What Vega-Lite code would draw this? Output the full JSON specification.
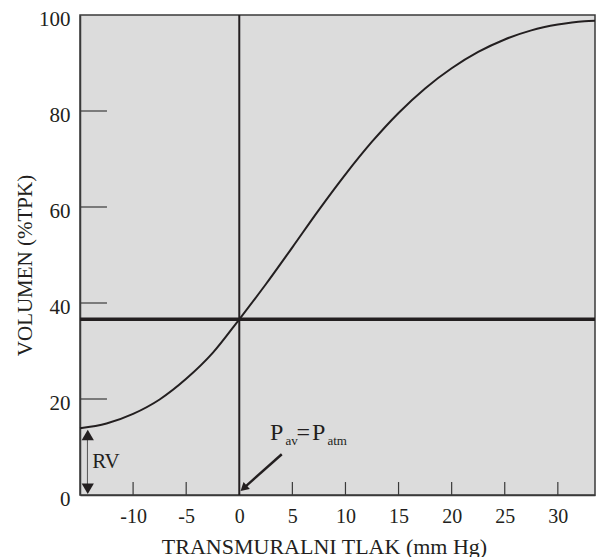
{
  "$schema": "https://vega.github.io/schema/vega-lite/v6.json",
  "autosize": "none",
  "width": 515,
  "height": 480,
  "padding": {"left": 80, "top": 15, "right": 2, "bottom": 62},
  "background": "white",
  "config": {
    "view": {"fill": "#dcdcdc", "stroke": "#3a3a3a", "strokeWidth": 1.5},
    "font": "Liberation Serif, Times New Roman, DejaVu Serif, serif",
    "text": {"font": "Liberation Serif, Times New Roman, DejaVu Serif, serif"},
    "axis": {"labelFont": "Liberation Serif, Times New Roman, DejaVu Serif, serif", "titleFont": "Liberation Serif, Times New Roman, DejaVu Serif, serif", "labelColor": "#231f20", "titleColor": "#231f20", "titleFontWeight": "normal", "domainColor": "#3a3a3a", "tickOpacity": 0, "domainWidth": 1.5, "grid": false, "labelFlush": false}
  },
  "datasets": {
    "curve": [
      {"p": -15, "v": 13.9},
      {"p": -12.5, "v": 14.9},
      {"p": -10, "v": 16.9},
      {"p": -7.5, "v": 19.9},
      {"p": -5, "v": 24.2},
      {"p": -2.5, "v": 29.6},
      {"p": 0, "v": 36.6},
      {"p": 2.5, "v": 43.9},
      {"p": 5, "v": 51.6},
      {"p": 7.5, "v": 59.4},
      {"p": 10, "v": 66.8},
      {"p": 12.5, "v": 73.6},
      {"p": 15, "v": 79.6},
      {"p": 17.5, "v": 84.7},
      {"p": 20, "v": 88.9},
      {"p": 22.5, "v": 92.3},
      {"p": 25, "v": 94.9},
      {"p": 27.5, "v": 96.8},
      {"p": 30, "v": 98.0},
      {"p": 32.5, "v": 98.7},
      {"p": 33.5, "v": 98.8}
    ],
    "hline": [{"v": 36.6}],
    "vline": [{"p": 0}],
    "xticks": [{"p": -10}, {"p": -5}, {"p": 5}, {"p": 10}, {"p": 15}, {"p": 20}, {"p": 25}, {"p": 30}],
    "yticks": [{"v": 20}, {"v": 40}, {"v": 60}, {"v": 80}],
    "rv": [{"p": -14.3, "v": 1.5, "v2": 12.3}],
    "rvup": [{"p": -14.27, "v": 12.5}],
    "rvdown": [{"p": -14.27, "v": 1.3}],
    "rvtext": [{"p": -13.85, "v": 6.8, "t": "RV"}],
    "parrow": [{"p": 4.0, "v": 8.5, "p2": 0.5, "v2": 1.6}],
    "phead": [{"p": 0.41, "v": 1.4}],
    "bigtext": [
      {"p": 2.89, "v": 11.46, "t": "P"},
      {"p": 5.4, "v": 11.46, "t": "="},
      {"p": 6.85, "v": 11.46, "t": "P"}
    ],
    "smalltext": [
      {"p": 4.35, "v": 10.42, "t": "av"},
      {"p": 8.3, "v": 10.42, "t": "atm"}
    ]
  },
  "layer": [
    {
      "data": {"name": "curve"},
      "mark": {"type": "line", "interpolate": "monotone", "color": "#231f20", "strokeWidth": 2},
      "encoding": {
        "x": {"field": "p", "type": "quantitative", "scale": {"domain": [-15, 33.5], "nice": false, "zero": false},
          "axis": {"values": [-10, -5, 0, 5, 10, 15, 20, 25, 30], "labelExpr": "toString(datum.value)", "tickSize": -13, "labelPadding": 24, "labelFontSize": 20, "labelBaseline": "top",
            "title": "TRANSMURALNI TLAK (mm Hg)", "titleFontSize": 22, "titleX": 244, "titleY": 58, "titleBaseline": "alphabetic", "titleAnchor": "middle", "titleAlign": "center"}},
        "y": {"field": "v", "type": "quantitative", "scale": {"domain": [0, 100], "nice": false},
          "axis": {"values": [0, 20, 40, 60, 80, 100], "tickSize": -27, "labelPadding": 37, "labelFontSize": 21, "labelOffset": 4,
            "title": "VOLUMEN (%TPK)", "titleFontSize": 21, "titleX": -55, "titleY": 250, "titleAngle": 270, "titleBaseline": "middle", "titleAlign": "center", "titleAnchor": "middle"}}
      }
    },
    {
      "data": {"name": "xticks"},
      "mark": {"type": "rule", "color": "#3a3a3a", "strokeWidth": 1.2},
      "encoding": {"x": {"field": "p", "type": "quantitative"}, "y": {"datum": 0}, "y2": {"datum": 2.7}}
    },
    {
      "data": {"name": "yticks"},
      "mark": {"type": "rule", "color": "#3a3a3a", "strokeWidth": 1.2},
      "encoding": {"y": {"field": "v", "type": "quantitative"}, "x": {"datum": -15}, "x2": {"datum": -12.46}}
    },
    {
      "data": {"name": "hline"},
      "mark": {"type": "rule", "color": "#231f20", "strokeWidth": 3.5},
      "encoding": {"y": {"field": "v", "type": "quantitative"}}
    },
    {
      "data": {"name": "vline"},
      "mark": {"type": "rule", "color": "#231f20", "strokeWidth": 2},
      "encoding": {"x": {"field": "p", "type": "quantitative"}}
    },
    {
      "data": {"name": "rv"},
      "mark": {"type": "rule", "color": "#555555", "strokeWidth": 1},
      "encoding": {"x": {"field": "p", "type": "quantitative"}, "y": {"field": "v", "type": "quantitative"}, "y2": {"field": "v2"}}
    },
    {
      "data": {"name": "rvup"},
      "mark": {"type": "point", "shape": "triangle-up", "filled": true, "color": "#231f20", "size": 150, "opacity": 1},
      "encoding": {"x": {"field": "p", "type": "quantitative"}, "y": {"field": "v", "type": "quantitative"}}
    },
    {
      "data": {"name": "rvdown"},
      "mark": {"type": "point", "shape": "triangle-down", "filled": true, "color": "#231f20", "size": 150, "opacity": 1},
      "encoding": {"x": {"field": "p", "type": "quantitative"}, "y": {"field": "v", "type": "quantitative"}}
    },
    {
      "data": {"name": "rvtext"},
      "mark": {"type": "text", "align": "left", "baseline": "middle", "fontSize": 21, "color": "#231f20"},
      "encoding": {"x": {"field": "p", "type": "quantitative"}, "y": {"field": "v", "type": "quantitative"}, "text": {"field": "t"}}
    },
    {
      "data": {"name": "parrow"},
      "mark": {"type": "rule", "color": "#231f20", "strokeWidth": 2.5},
      "encoding": {"x": {"field": "p", "type": "quantitative"}, "y": {"field": "v", "type": "quantitative"}, "x2": {"field": "p2"}, "y2": {"field": "v2"}}
    },
    {
      "data": {"name": "phead"},
      "mark": {"type": "point", "shape": "triangle-up", "filled": true, "color": "#231f20", "size": 90, "angle": 228, "opacity": 1},
      "encoding": {"x": {"field": "p", "type": "quantitative"}, "y": {"field": "v", "type": "quantitative"}}
    },
    {
      "data": {"name": "bigtext"},
      "mark": {"type": "text", "align": "left", "baseline": "alphabetic", "fontSize": 24, "color": "#231f20"},
      "encoding": {"x": {"field": "p", "type": "quantitative"}, "y": {"field": "v", "type": "quantitative"}, "text": {"field": "t"}}
    },
    {
      "data": {"name": "smalltext"},
      "mark": {"type": "text", "align": "left", "baseline": "alphabetic", "fontSize": 13, "color": "#231f20"},
      "encoding": {"x": {"field": "p", "type": "quantitative"}, "y": {"field": "v", "type": "quantitative"}, "text": {"field": "t"}}
    }
  ]
}
